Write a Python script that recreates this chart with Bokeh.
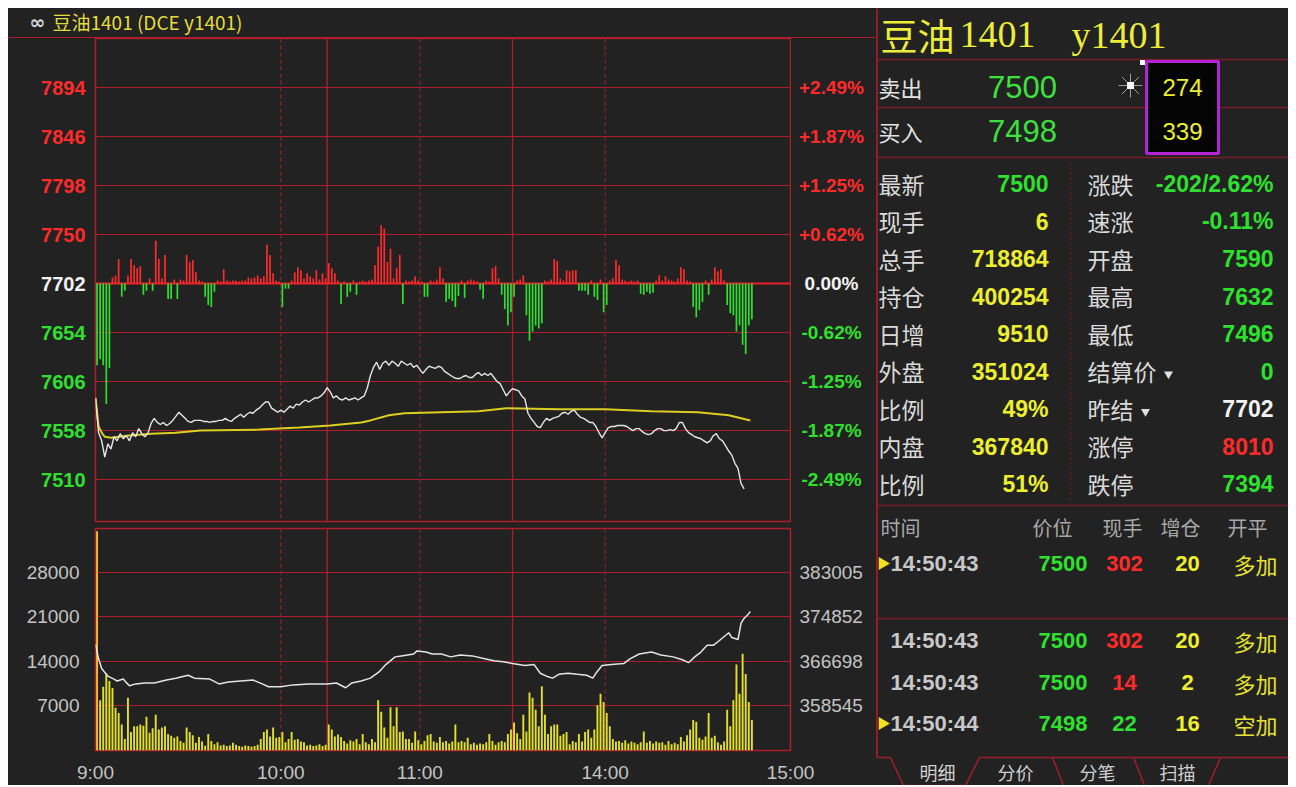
import math
from bokeh.plotting import figure
from bokeh.models import (ColumnDataSource, Range1d, LinearAxis, FixedTicker, Grid, Span)
from bokeh.layouts import row, column
from bokeh.core.properties import value
from bokeh.embed import file_html
from bokeh.resources import INLINE

# ---------------------------------------------------------------- data
PREV_SETTLE = 7702
SESSIONS = [("9:00", "10:15"), ("10:30", "11:30"), ("13:30", "15:00")]
TIME_TICKS = ["9:00", "10:00", "11:00", "14:00", "15:00"]
PRICE_TICKS = [7894, 7846, 7798, 7750, 7702, 7654, 7606, 7558, 7510]
PCT_LABELS = ["+2.49%", "+1.87%", "+1.25%", "+0.62%", "0.00%",
              "-0.62%", "-1.25%", "-1.87%", "-2.49%"]

PRICE = [
    7590, 7556, 7548, 7532, 7545, 7540, 7552, 7548, 7555, 7550,
    7553, 7548, 7556, 7552, 7560, 7555, 7552, 7556, 7565, 7570,
    7566, 7564, 7566, 7563, 7565, 7568, 7572, 7576, 7573, 7570,
    7567, 7566, 7568, 7568, 7568, 7567, 7567, 7566, 7567, 7567,
    7568, 7568, 7570, 7568, 7567, 7570, 7572, 7574, 7571, 7574,
    7576, 7575, 7578, 7580, 7583, 7586, 7586, 7580, 7578, 7576,
    7578, 7576, 7579, 7582, 7580, 7584, 7583, 7586, 7588, 7586,
    7588, 7590, 7590, 7592, 7595, 7600, 7596, 7590, 7592, 7589,
    7588, 7590, 7588, 7589, 7590, 7588, 7590, 7592, 7600, 7612,
    7620, 7625, 7618, 7624, 7626, 7622, 7626, 7624, 7621, 7626,
    7624, 7622, 7624, 7620, 7622, 7618, 7614, 7618, 7621, 7620,
    7619, 7621, 7620, 7616, 7614, 7612, 7610, 7609, 7609, 7611,
    7612, 7610, 7610, 7613, 7615, 7612, 7614, 7612, 7614, 7610,
    7606, 7604, 7598, 7592, 7596, 7599, 7598, 7597, 7592, 7589,
    7575, 7570, 7566, 7562, 7561, 7566, 7570, 7568, 7570, 7571,
    7572, 7575, 7576, 7574, 7577, 7578, 7574, 7571, 7570, 7568,
    7566, 7566, 7562, 7556, 7551, 7556, 7561, 7562, 7562, 7563,
    7563, 7563, 7562, 7560, 7558, 7560, 7560, 7557, 7555, 7554,
    7555, 7558, 7560, 7560, 7558, 7558, 7559, 7558, 7560, 7566,
    7566, 7560, 7556, 7554, 7552, 7551, 7550, 7548, 7546, 7548,
    7553, 7555, 7550, 7548, 7543, 7538, 7534, 7526, 7521, 7506,
    7501,
]

AVG_IDX = [0, 1, 2, 3, 5, 10, 18, 26, 34, 53, 66, 76, 86, 89, 95, 100, 112,
           124, 133, 150, 165, 180, 195, 205, 212]
AVG_PRICE = [7590, 7562, 7556, 7552, 7551, 7553, 7555, 7556, 7558, 7559, 7561,
             7563, 7566, 7568, 7573, 7575, 7576, 7577, 7580, 7579, 7579, 7577,
             7576, 7573, 7568]

TICK_BARS = [
    -80, -74, -80, -118, -83, 6, 8, 24, -13, -7,
    8, 24, 18, 15, 17, -11, -7, 5, -7, 42,
    24, 5, 28, -15, -15, 4, -15, 4, 3, 28,
    21, 23, 11, 3, 2, -13, -21, -23, -8, 3,
    2, 14, 3, 2, 3, 3, 2, 3, 3, 6,
    5, 6, 8, 5, 7, 38, 28, 10, 3, 2,
    -23, -5, -5, 3, 11, 16, 13, 5, 10, 7,
    5, 13, 4, 10, 5, 20, 15, 10, 3, -20,
    2, -13, -8, 3, -11, 2, 3, 2, 3, 4,
    18, 36, 57, 54, 21, 34, 5, 15, 28, -20,
    3, 2, 3, 7, 3, 2, -13, -13, 3, 2,
    4, 16, 5, -18, -15, -17, -23, -12, 3, -14,
    3, 4, 3, 2, -6, -15, 3, 2, 15, 17,
    5, -11, -25, -41, -28, -13, 3, 4, 8, -31,
    -56, -47, -41, -44, -39, 3, 2, 4, 24, 22,
    5, 3, 13, 12, 13, 13, -7, -7, -7, -11,
    3, -13, -16, 4, -28, -21, 3, 5, 23, 18,
    4, 3, 2, 3, 2, 3, -10, -11, -8, -10,
    -9, 3, 8, 3, 7, 4, 3, 2, 5, 16,
    14, 3, 2, -23, -33, -26, -18, 3, -11, 4,
    16, 12, 14, 3, -21, -29, -31, -47, -41, -60,
    -69, -41, -35,
]

VOLUME = [
    34400, 7900, 10000, 12100, 10900, 9800, 6700, 5900, 4100, 1800,
    8300, 2900, 3800, 3800, 4100, 3900, 5300, 2800, 3500, 5600,
    3300, 3600, 3800, 2600, 2300, 2000, 2200, 1500, 1200, 3600,
    2900, 2400, 1200, 2100, 1400, 750, 2600, 1500, 1000, 1300,
    800, 900, 700, 800, 1200, 900, 700, 600, 800, 700,
    600, 700, 900, 1800, 2900, 3300, 2200, 3600, 2000, 2100,
    2900, 1300, 1800, 2900, 1700, 1800, 1400, 1300, 800, 900,
    700, 800, 1000, 700, 900, 4100, 3300, 2200, 2500, 2100,
    1500, 1100, 1600, 1400, 1800, 1000, 2600, 1300, 1000, 1800,
    1300, 7900, 6100, 3600, 2000, 6800, 3800, 6800, 2900, 3000,
    1800, 1800, 1200, 3000, 1600, 1000, 1500, 2400, 2600, 1400,
    1200, 2100, 1300, 1500, 1100, 1400, 4100, 1300, 1500, 1300,
    2000, 1000, 1200, 900, 1100, 1000, 1300, 2600, 1500, 900,
    1300, 1500, 1300, 2600, 3300, 4400, 2700, 1800, 5600, 3000,
    9100, 8300, 6400, 3800, 10100, 5600, 2600, 3800, 4100, 4100,
    2300, 2600, 2900, 1000, 1500, 1300, 2600, 1400, 2900, 3300,
    2000, 3300, 7100, 8900, 7600, 5900, 3800, 1800, 1400, 1500,
    1200, 1600, 1100, 1400, 1200, 1000, 1300, 3000, 1200, 1500,
    1100, 1400, 1200, 1300, 900, 1500, 1000, 1200, 1000, 2100,
    1400, 2400, 3300, 4800, 4500, 2000, 1700, 2200, 5900, 2000,
    2300, 1300, 900, 1400, 6400, 3800, 7900, 13500, 8900, 15200,
    12000, 7600, 4800,
]

VOL_TICKS = [7000, 14000, 21000, 28000]
OI_TICKS = [358545, 366698, 374852, 383005]
OI_IDX = [0, 1, 2, 4, 6, 7, 9, 10, 11, 13, 16, 19, 23, 26, 30, 32, 37, 40, 43, 47,
          51, 54, 56, 60, 64, 69, 75, 78, 81, 83, 86, 89, 92, 94, 97, 99, 103, 104,
          107, 109, 112, 115, 118, 122, 126, 129, 132, 135, 139, 142, 144, 146, 148,
          150, 153, 156, 159, 161, 162, 164, 167, 171, 173, 176, 180, 183, 187, 190,
          192, 194, 196, 198, 200, 202, 205, 206, 208, 209, 210, 211, 212]
OI_VAL = [369800, 367160, 365400, 363980, 363450, 363100, 363450, 362800, 362220,
          362570, 362740, 362740, 363270, 363620, 364160, 363620, 363450, 362570,
          362920, 363100, 363270, 362570, 362040, 362040, 362390, 362570, 362570,
          362740, 361860, 362740, 363100, 363620, 364870, 366100, 367510, 367690,
          368040, 368570, 368390, 368040, 368040, 367510, 367860, 367690, 367160,
          366810, 366630, 366280, 365920, 366100, 364510, 363980, 363620, 364330,
          364510, 364330, 364160, 363620, 364510, 365920, 366100, 366280, 367160,
          368040, 368390, 367860, 367510, 366980, 366450, 367510, 368390, 369630,
          369630, 370510, 371920, 371040, 370690, 373690, 374570, 375100, 375800]

# quote panel
HEADER_ICON = "∞"
HEADER_TEXT = "豆油1401 (DCE y1401)"
TITLE_PARTS = ["豆油", "1401", "y1401"]
ASK_LABEL, ASK_PRICE, ASK_QTY = "卖出", "7500", "274"
BID_LABEL, BID_PRICE, BID_QTY = "买入", "7498", "339"
STAT_LEFT_LABELS = ["最新", "现手", "总手", "持仓", "日增", "外盘", "比例", "内盘", "比例"]
STAT_LEFT_VALUES = ["7500", "6", "718864", "400254", "9510", "351024", "49%", "367840", "51%"]
STAT_LEFT_KIND = ["down", "vol", "vol", "vol", "vol", "vol", "vol", "vol", "vol"]
STAT_RIGHT_LABELS = ["涨跌", "速涨", "开盘", "最高", "最低", "结算价", "昨结", "涨停", "跌停"]
STAT_RIGHT_VALUES = ["-202/2.62%", "-0.11%", "7590", "7632", "7496", "0", "7702", "8010", "7394"]
STAT_RIGHT_KIND = ["down", "down", "down", "down", "down", "down", "flat", "up", "down"]
STAT_RIGHT_MENU = [False, False, False, False, False, True, True, False, False]
TRADE_HEADER = ["时间", "价位", "现手", "增仓", "开平"]
TRADE_TIME = ["14:50:43", "14:50:43", "14:50:43", "14:50:44"]
TRADE_PRICE = ["7500", "7500", "7500", "7498"]
TRADE_VOL = ["302", "302", "14", "22"]
TRADE_VOL_KIND = ["up", "up", "up", "down"]
TRADE_OI = ["20", "20", "2", "16"]
TRADE_TYPE = ["多加", "多加", "多加", "空加"]
TRADE_MARK = [True, False, False, True]
TABS = ["明细", "分价", "分笔", "扫描"]

# ---------------------------------------------------------------- helpers
def hm(s):
    h, m = s.split(":")
    return int(h) * 60 + int(m)


def t2i(s):
    t, acc = hm(s), 0
    for a, b in SESSIONS:
        a, b = hm(a), hm(b)
        if t <= b:
            return acc + max(0, t - a)
        acc += b - a
    return acc


SESSION_LEN = [hm(b) - hm(a) for a, b in SESSIONS]
TOTAL = sum(SESSION_LEN)
BREAKS = [sum(SESSION_LEN[:k + 1]) for k in range(len(SESSION_LEN) - 1)]

BG = "#222222"
GRID_RED = "#ae1f2b"
DASH_RED = "#862231"
RED = "#ff2b2b"
GREEN = "#2fe02f"
WHITE = "#f2f2f2"
YELLOW = "#eeee30"
GRAY = "#c4c4c4"
LINE_RED = "#7a1c25"
FONT = "Liberation Sans"
CJK = "Noto Sans CJK SC"
KIND_COLOR = {"up": RED, "down": GREEN, "flat": WHITE, "vol": YELLOW}
DARK = {"background-color": BG}


def base_fig(w, h, **kw):
    p = figure(width=w, height=h, toolbar_location=None, output_backend="svg",
               title=None, **kw)
    p.background_fill_color = BG
    p.border_fill_color = BG
    return p


def text_fig(w, h, **kw):
    p = base_fig(w, h, x_axis_location=None, y_axis_location=None, **kw)
    p.grid.visible = False
    p.outline_line_color = None
    return p


def add_text(p, xs, ys, texts, colors, size, font, align="left", style="normal"):
    if isinstance(colors, str):
        colors = [colors] * len(texts)
    src = ColumnDataSource(dict(x=list(xs), y=list(ys), t=list(texts), c=list(colors)))
    p.text(x="x", y="y", text="t", text_color="c", source=src, text_font=value(font),
           text_font_size=size, text_align=align, text_baseline="middle",
           text_font_style=style)


def add_time_lines(p):
    for t in TIME_TICKS[1:-1]:
        p.add_layout(Span(location=t2i(t), dimension="height", line_color=DASH_RED,
                          line_width=1.3, line_dash="4 3", level="underlay"))
    for b in BREAKS:
        p.add_layout(Span(location=b, dimension="height", line_color=GRID_RED,
                          line_width=1.3, level="underlay"))


# layout geometry (pixels)
LEFT_W = 867
LAB_L, LAB_R = 86, 84
PLOT_W = LEFT_W - LAB_L - LAB_R          # 697 (frame 695 + 1px each side)
HEAD_H = 30
P1_H = 486
P2_H = 261

# ---------------------------------------------------------------- header strip
ph = text_fig(LEFT_W, HEAD_H, x_range=Range1d(0, LEFT_W), y_range=Range1d(HEAD_H, 0),
              min_border=0)
add_text(ph, [29], [13], [HEADER_ICON], "#d8d8d8", "19px", "DejaVu Sans", "center", "bold")
add_text(ph, [44], [13], [HEADER_TEXT], "#e4dc3c", "19px", CJK)
ph.line(x=[0, LEFT_W], y=[HEAD_H - 0.8, HEAD_H - 0.8], line_color=GRID_RED, line_width=1.6)

# ---------------------------------------------------------------- price panel
price_range = Range1d(7469, 7942)
p1 = base_fig(PLOT_W, P1_H, x_range=Range1d(0, TOTAL), y_range=price_range,
              x_axis_location=None, y_axis_location=None,
              min_border_left=1, min_border_right=1, min_border_top=0, min_border_bottom=3)
p1.grid.visible = False
p1.outline_line_color = GRID_RED
p1.outline_line_width = 1.5
p1.add_layout(Grid(dimension=1, ticker=FixedTicker(ticks=PRICE_TICKS),
                   grid_line_color=GRID_RED, grid_line_width=1.2))
add_time_lines(p1)
p1.add_layout(Span(location=PREV_SETTLE, dimension="width", line_color="#e8202c",
                   line_width=2, level="underlay"))

bars = ColumnDataSource(dict(
    x=[i + 0.5 for i in range(len(TICK_BARS))],
    bottom=[PREV_SETTLE] * len(TICK_BARS),
    top=[PREV_SETTLE + v for v in TICK_BARS],
    c=[RED if v > 0 else GREEN for v in TICK_BARS]))
p1.vbar(x="x", bottom="bottom", top="top", width=0.55, fill_color="c", line_color=None,
        source=bars)
p1.line(x=AVG_IDX, y=AVG_PRICE, line_color="#dccf22", line_width=2)
p1.line(x=list(range(len(PRICE))), y=PRICE, line_color="#e6e6e6", line_width=1.4)

lab_col = [RED if v > PREV_SETTLE else (GREEN if v < PREV_SETTLE else WHITE) for v in PRICE_TICKS]

pl = text_fig(LAB_L, P1_H, x_range=Range1d(0, LAB_L), y_range=price_range,
              min_border_left=0, min_border_right=0, min_border_top=0, min_border_bottom=3)
add_text(pl, [LAB_L - 9] * len(PRICE_TICKS), PRICE_TICKS, [str(v) for v in PRICE_TICKS],
         lab_col, "20px", FONT, "right", "bold")

pr = text_fig(LAB_R, P1_H, x_range=Range1d(0, LAB_R), y_range=price_range,
              min_border_left=0, min_border_right=0, min_border_top=0, min_border_bottom=3)
add_text(pr, [40] * len(PRICE_TICKS), PRICE_TICKS, PCT_LABELS, lab_col, "19px", FONT,
         "center", "bold")

# ---------------------------------------------------------------- volume panel
VOL_MAX = 34850
oi_slope = (OI_TICKS[-1] - OI_TICKS[0]) / (VOL_TICKS[-1] - VOL_TICKS[0])
oi_lo = OI_TICKS[0] - VOL_TICKS[0] * oi_slope
oi_hi = oi_lo + VOL_MAX * oi_slope

p2 = base_fig(LEFT_W, P2_H, x_range=p1.x_range, y_range=Range1d(0, VOL_MAX),
              min_border_left=LAB_L + 1, min_border_right=LAB_R + 1,
              min_border_top=4, min_border_bottom=28)
p2.outline_line_color = GRID_RED
p2.outline_line_width = 1.5
p2.extra_y_ranges = {"oi": Range1d(oi_lo, oi_hi)}
p2.add_layout(LinearAxis(y_range_name="oi", ticker=FixedTicker(ticks=OI_TICKS),
                         major_label_overrides={t: str(t) for t in OI_TICKS}), "right")
p2.yaxis[0].ticker = FixedTicker(ticks=VOL_TICKS)
p2.yaxis[0].major_label_overrides = {t: str(t) for t in VOL_TICKS}
p2.xaxis.ticker = FixedTicker(ticks=[t2i(t) for t in TIME_TICKS])
p2.xaxis.major_label_overrides = {t2i(t): t for t in TIME_TICKS}
for ax in p2.axis:
    ax.axis_line_color = None
    ax.major_tick_line_color = None
    ax.minor_tick_line_color = None
    ax.major_label_text_color = GRAY
    ax.major_label_text_font = FONT
    ax.major_label_text_font_size = "19px"
p2.yaxis[0].major_label_standoff = 10
p2.yaxis[1].major_label_standoff = 3
p2.xaxis.major_label_standoff = 5
p2.xgrid.visible = False
p2.ygrid.grid_line_color = GRID_RED
p2.ygrid.grid_line_width = 1.2
add_time_lines(p2)

vsrc = ColumnDataSource(dict(
    x=[i + 0.5 for i in range(len(VOLUME))], top=VOLUME,
    c=["#ffb820" if i == 0 else "#e2e02a" for i in range(len(VOLUME))]))
p2.vbar(x="x", top="top", bottom=0, width=0.62, fill_color="c", line_color=None, source=vsrc)
p2.line(x=OI_IDX, y=OI_VAL, y_range_name="oi", line_color="#e4e4e4", line_width=1.5)

# ---------------------------------------------------------------- quote panel
INFO_X0, INFO_Y0 = 875, 8
INFO_W, INFO_H = 413, 777


def LX(X):
    return X - INFO_X0


def LY(Y):
    return Y - INFO_Y0


p3 = text_fig(INFO_W, INFO_H, x_range=Range1d(0, INFO_W), y_range=Range1d(INFO_H, 0),
              min_border=0)


def put(xs, ys, texts, colors, size, font, align="left", style="normal"):
    add_text(p3, [LX(v) for v in xs], [LY(v) for v in ys], texts, colors, size, font,
             align, style)


H_LINES = [59, 107, 157, 505, 618]
p3.multi_line(xs=[[LX(876), LX(1288)] for _ in H_LINES], ys=[[LY(y), LY(y)] for y in H_LINES],
              line_color=LINE_RED, line_width=1.6)
p3.line(x=[LX(876.5), LX(876.5)], y=[LY(8), LY(757)], line_color="#a01e2a", line_width=1.8)
p3.line(x=[LX(1070), LX(1070)], y=[LY(162), LY(500)], line_color=LINE_RED, line_width=1.5,
        line_dash="2 3")
TAB_LINE_X = [876, 890, 903, 965, 979, 1288]
TAB_LINE_Y = [757, 757, 785, 785, 757, 757]
p3.line(x=[LX(v) for v in TAB_LINE_X], y=[LY(v) for v in TAB_LINE_Y],
        line_color="#9a1e2a", line_width=1.6)
p3.multi_line(xs=[[LX(1052), LX(1063)], [LX(1133), LX(1144)], [LX(1220), LX(1208)]],
              ys=[[LY(757), LY(785)], [LY(757), LY(785)], [LY(757), LY(785)]],
              line_color="#9a1e2a", line_width=1.6)

# title
put([880], [34], [TITLE_PARTS[0]], "#ecec3a", "37px", CJK)
put([959, 1071], [34, 34], TITLE_PARTS[1:], "#ecec3a", "38px", "Liberation Serif")

# ask / bid + purple box
p3.quad(left=LX(1146), right=LX(1218), top=LY(61), bottom=LY(153), fill_color="#050505",
        line_color="#b423d8", line_width=3)
put([878, 878], [86, 130], [ASK_LABEL, BID_LABEL], "#e2e2e2", "22px", CJK)
put([1022, 1022], [86, 130], [ASK_PRICE, BID_PRICE], "#3ee03e", "31px", FONT, "center")
put([1182, 1182], [87, 131], [ASK_QTY, BID_QTY], YELLOW, "24px", FONT, "center")
p3.scatter(x=[LX(1130)], y=[LY(85)], marker="asterisk", size=24, line_color="white",
           line_alpha=0.55, line_width=1)
p3.scatter(x=[LX(1130), LX(1142)], y=[LY(85), LY(62)], marker="square", size=[7, 5],
           fill_color="white", line_color=None)

# stats table
ROW_Y = [183 + 37.5 * i for i in range(len(STAT_LEFT_LABELS))]
put([878] * len(ROW_Y), ROW_Y, STAT_LEFT_LABELS, "#dadada", "23px", CJK)
put([1048] * len(ROW_Y), ROW_Y, STAT_LEFT_VALUES, [KIND_COLOR[k] for k in STAT_LEFT_KIND],
    "23px", FONT, "right", "bold")
put([1087] * len(ROW_Y), ROW_Y, STAT_RIGHT_LABELS, "#dadada", "23px", CJK)
put([1273] * len(ROW_Y), ROW_Y, STAT_RIGHT_VALUES, [KIND_COLOR[k] for k in STAT_RIGHT_KIND],
    "23px", FONT, "right", "bold")
menu_x = [LX(1087 + 23 * len(lbl) + 12) for lbl, m in zip(STAT_RIGHT_LABELS, STAT_RIGHT_MENU) if m]
menu_y = [LY(y + 3) for y, m in zip(ROW_Y, STAT_RIGHT_MENU) if m]
p3.scatter(x=menu_x, y=menu_y, marker="inverted_triangle", size=9, fill_color="#e0e0e0",
           line_color=None)

# trade list
put([880], [527], TRADE_HEADER[:1], "#a8a8a8", "20px", CJK)
put([1052, 1122, 1180, 1247], [527] * 4, TRADE_HEADER[1:], "#a8a8a8", "20px", CJK, "center")
TRADE_Y = [563, 640, 682, 723]
put([890] * 4, TRADE_Y, TRADE_TIME, "#c8c8c8", "22px", FONT, "left", "bold")
put([1087] * 4, TRADE_Y, TRADE_PRICE, GREEN, "22px", FONT, "right", "bold")
put([1124] * 4, TRADE_Y, TRADE_VOL, [KIND_COLOR[k] for k in TRADE_VOL_KIND], "22px", FONT,
    "center", "bold")
put([1187] * 4, TRADE_Y, TRADE_OI, YELLOW, "22px", FONT, "center", "bold")
put([1255] * 4, TRADE_Y, TRADE_TYPE, "#e6e232", "22px", CJK, "center")
mk_y = [LY(y) for y, m in zip(TRADE_Y, TRADE_MARK) if m]
p3.scatter(x=[LX(882)] * len(mk_y), y=mk_y, marker="triangle", size=13, angle=-math.pi / 2,
           fill_color="#f4e020", line_color=None)

# tabs
put([937, 1015, 1097, 1177], [771] * 4, TABS, "#d0d0d0", "18px", CJK, "center")

left = column(row(ph, styles=DARK), row(pl, p1, pr, styles=DARK), row(p2, styles=DARK),
              styles=DARK)
layout = row(left, p3, margin=(8, 8, 8, 8), styles=DARK)
open("out.html", "w").write(file_html(layout, INLINE, "豆油1401"))
